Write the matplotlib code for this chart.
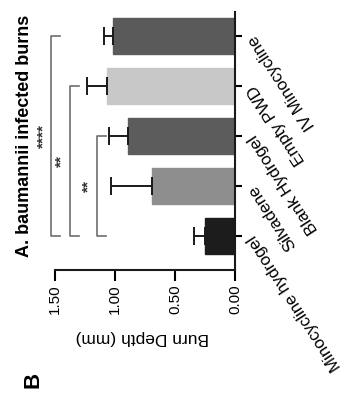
import matplotlib
matplotlib.use("Agg")
import matplotlib.pyplot as plt
import numpy as np

# --- Data ---
groups = ["Minocycline hydrogel", "Silvadene", "Blank Hydrogel", "Empty PWD", "IV Minocycline"]
depth_mm = [0.25, 0.69, 0.89, 1.07, 1.02]
sem_mm = [0.09, 0.34, 0.16, 0.16, 0.07]
bar_colors = ["#1c1c1c", "#8e8e8e", "#5c5c5c", "#c8c8c8", "#5a5a5a"]
x_ticks = [0.0, 0.5, 1.0, 1.5]
x_tick_labels = ["0.00", "0.50", "1.00", "1.50"]

# significance brackets: (first group, last group, bracket position, stars)
brackets = [(0, 4, 1.53, "****"), (0, 3, 1.375, "**"), (0, 2, 1.15, "**")]

plt.rcParams['font.family'] = ['Liberation Sans', 'DejaVu Sans']

fig = plt.figure(figsize=(3.45, 4.01), dpi=100)
ax = fig.add_axes([55 / 345, 1 - 270 / 401, 180 / 345, 258 / 401])

pos = np.arange(len(groups))
zeros = [0] * len(groups)
ax.barh(pos, depth_mm, height=0.72, color=bar_colors, edgecolor=bar_colors,
        xerr=[zeros, sem_mm], error_kw=dict(ecolor="#1a1a1a", elinewidth=1.4,
                                            capsize=6.5, capthick=1.4))

ax.set_xlim(1.5, 0)
ax.set_ylim(-0.68, 4.48)

# spines: the value axis at the bottom, the group axis on the right
for side in ("left", "top"):
    ax.spines[side].set_visible(False)
for side in ("right", "bottom"):
    ax.spines[side].set_linewidth(1.5)
    ax.spines[side].set_color("#1a1a1a")

ax.set_xticks(x_ticks)
ax.set_xticklabels(x_tick_labels)
ax.tick_params(axis="x", length=8, width=1.5, labelrotation=90, labelsize=11, pad=2)

ax.yaxis.tick_right()
ax.set_yticks(pos)
ax.set_yticklabels(groups, rotation=123, ha="right", va="center",
                   rotation_mode="anchor", fontsize=12.2)
ax.tick_params(axis="y", length=5, width=1.5, pad=7)

# significance brackets
for g0, g1, xb, stars in brackets:
    ax.plot([xb - 0.075, xb, xb, xb - 0.075], [g1, g1, g0, g0],
            color="#6e6e6e", lw=1.2, clip_on=False)
    ax.text(xb + 0.07, (g0 + g1) / 2, stars, rotation=90, ha="center", va="center",
            fontsize=11, fontweight="bold", color="#333333", clip_on=False)

fig.text(25 / 345, 1 - 136 / 401, "A. baumannii infected burns", rotation=90,
         ha="center", va="center", fontsize=13, fontweight="bold")
fig.text(142 / 345, 1 - 338 / 401, "Burn Depth (mm)", rotation=180,
         ha="center", va="center", fontsize=12.5)
fig.text(33 / 345, 1 - 380 / 401, "B", rotation=90, ha="center", va="center",
         fontsize=16, fontweight="bold")

fig.savefig("out.png", dpi=100)
